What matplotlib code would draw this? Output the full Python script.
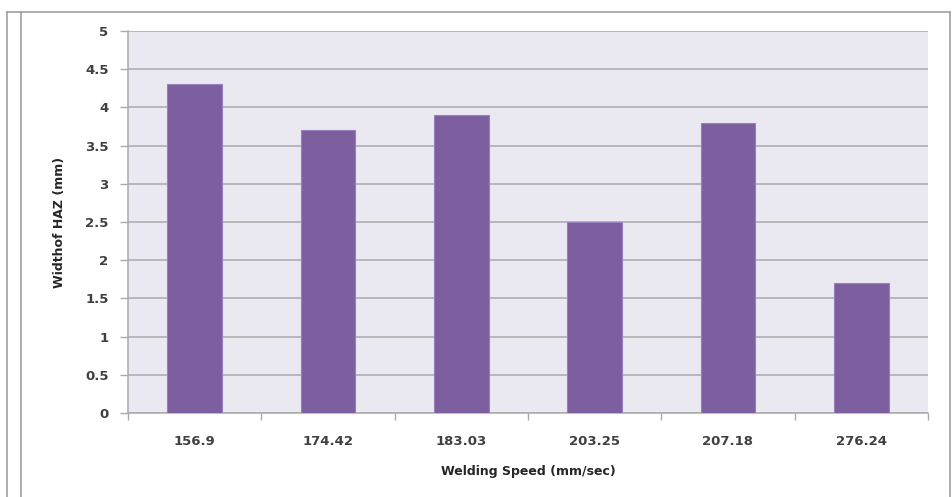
import numpy as np
import matplotlib.pyplot as plt
from matplotlib.lines import Line2D

# data
speeds = ['156.9', '174.42', '183.03', '203.25', '207.18', '276.24']
haz_width = [4.3, 3.7, 3.9, 2.5, 3.8, 1.7]
yticks = [0, 0.5, 1, 1.5, 2, 2.5, 3, 3.5, 4, 4.5, 5]

W, H = 953, 497
fig = plt.figure(figsize=(W / 100, H / 100), dpi=100)

# plot area in pixels: left 128, right 928, top 31, bottom 413
ax = fig.add_axes([128 / W, 1 - 413 / H, 800 / W, 382 / H])
ax.set_facecolor('#EAE8F0')

x = np.arange(len(speeds))
ax.bar(x, haz_width, width=0.41, color='#7D5FA0', edgecolor='#9A80BA',
       linewidth=0.8, zorder=3)

ax.set_xlim(-0.5, len(speeds) - 0.5)
ax.set_ylim(0, 5)
ax.set_yticks(yticks)
ax.set_yticklabels(['0', '0.5', '1', '1.5', '2', '2.5', '3', '3.5', '4', '4.5', '5'])
ax.yaxis.grid(True, color='#AAAAAA', linewidth=1.1, zorder=1)
ax.set_axisbelow(True)

ax.set_xticks(x)
ax.set_xticklabels(speeds)
ax.set_xticks(np.arange(len(speeds) + 1) - 0.5, minor=True)
ax.tick_params(axis='x', which='major', length=0, pad=16)
ax.tick_params(axis='x', which='minor', length=5, color='#AAAAAA', width=1)
ax.tick_params(axis='y', length=6, color='#AAAAAA', width=1, pad=8)

for lab in ax.get_xticklabels() + ax.get_yticklabels():
    lab.set_fontsize(9.5)
    lab.set_fontweight('bold')
    lab.set_color('#404040')

for side in ['top', 'right']:
    ax.spines[side].set_visible(False)
ax.spines['left'].set_color('#AAAAAA')
ax.spines['bottom'].set_color('#AAAAAA')
ax.spines['left'].set_linewidth(1.1)
ax.spines['bottom'].set_linewidth(1.1)

fig.text(528 / W, 1 - 472 / H, 'Welding Speed (mm/sec)', ha='center', va='center',
         fontsize=9, fontweight='bold', color='#262626')
fig.text(60 / W, 1 - 222 / H, 'Widthof HAZ (mm)', ha='center', va='center',
         rotation=90, fontsize=9, fontweight='bold', color='#262626')

# outer frame of the chart picture
frame = dict(color='#A0A0A0', linewidth=1.2, transform=fig.transFigure)
fig.add_artist(Line2D([7 / W, 7 / W], [0, 1 - 12 / H], **frame))
fig.add_artist(Line2D([21 / W, 21 / W], [0, 1 - 12 / H], **frame))
fig.add_artist(Line2D([7 / W, 950 / W], [1 - 12 / H, 1 - 12 / H], **frame))
fig.add_artist(Line2D([950 / W, 950 / W], [0, 1 - 12 / H], **frame))

fig.savefig('out.png', dpi=100)
